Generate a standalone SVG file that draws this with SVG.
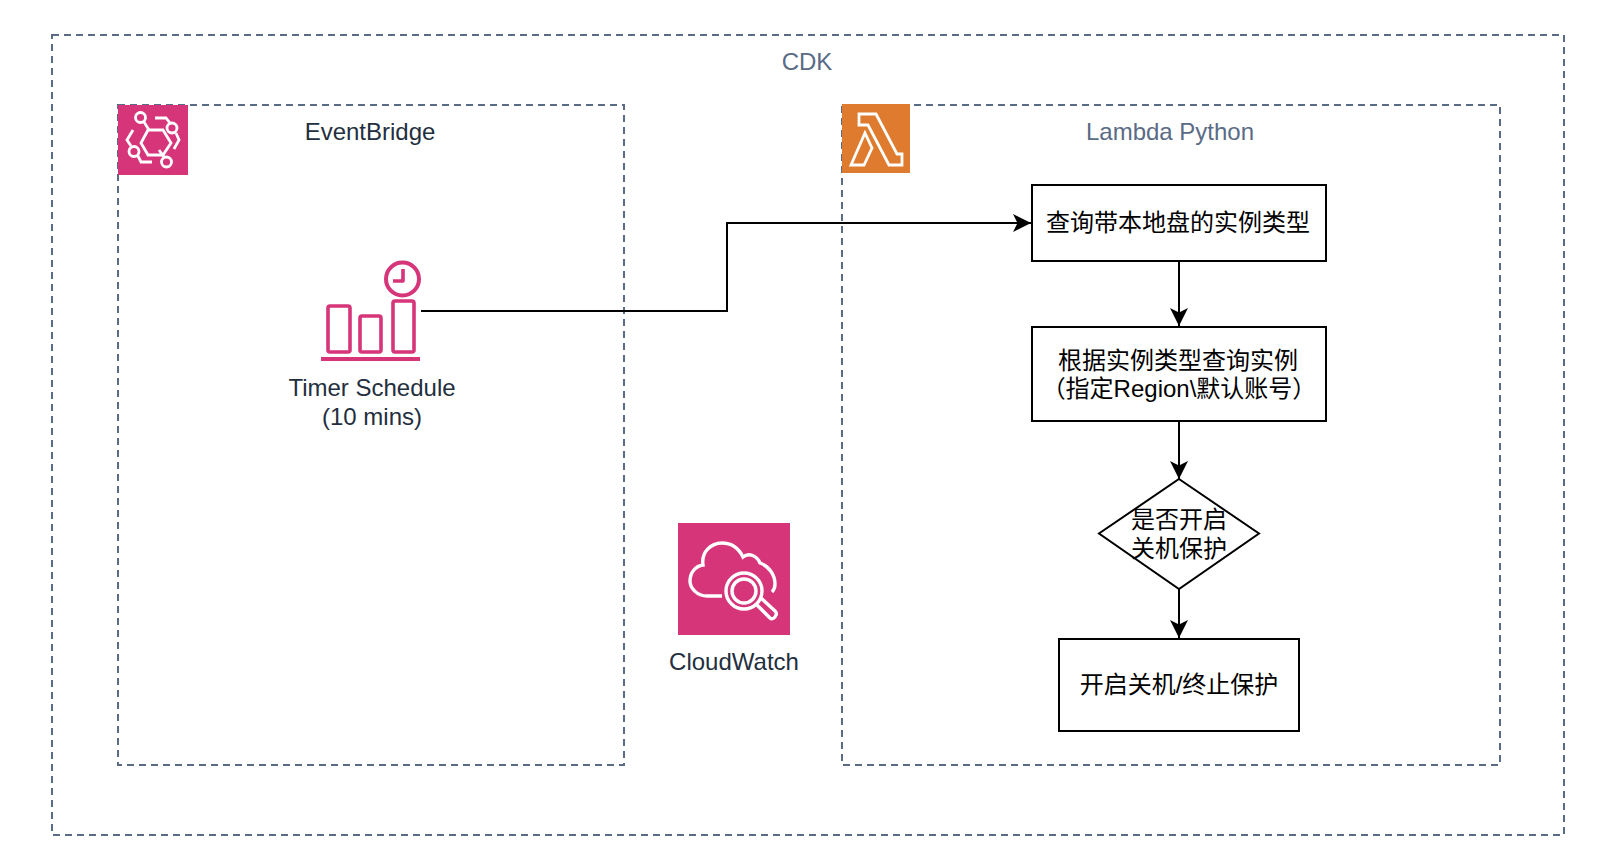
<svg xmlns="http://www.w3.org/2000/svg" width="1600" height="858" viewBox="0 0 1600 858">
<style>
text{font-family:"Liberation Sans","Noto Sans CJK SC",sans-serif;font-size:24px;text-anchor:middle}
.zone{fill:none;stroke:#5a6b86;stroke-width:2;stroke-dasharray:7 5}
.box{fill:#fff;stroke:#000;stroke-width:2}
.ic{fill:none;stroke:#fff;stroke-width:2.800}
.pk{fill:none;stroke:#d6357a;stroke-width:3.600;stroke-linejoin:round}
.cn{fill:none;stroke:#000;stroke-width:2}
.dk{fill:#232f3e}
.sl{fill:#5a6b86}
</style>
<defs><marker id="a" markerWidth="20" markerHeight="20" refX="18" refY="9" orient="auto" markerUnits="userSpaceOnUse"><path d="M0 0L18 9L0 18L4.500 9Z" fill="#000"/></marker></defs>
<rect x="0" y="0" width="1600" height="858" fill="#fff"/>
<g id="cdk"><rect class="zone" x="52" y="35" width="1512" height="800"/><text class="sl" x="807" y="70">CDK</text></g>
<g id="eventbridge"><rect class="zone" x="118" y="105" width="506" height="660"/>
<rect x="118" y="105" width="70" height="70" fill="#d6357a"/>
<g class="ic"><path d="M148 130H163L171 143L163 155H148L141 143Z"/><circle cx="140.500" cy="117.500" r="5"/><path d="M144 122L149 130"/><circle cx="172" cy="128" r="5"/><path d="M155 118H166L170 123M176 133L179 140L174 149"/><circle cx="134" cy="151.500" r="5"/><path d="M133 130L127 140L131 146M138 156L141 162H152"/><circle cx="166.500" cy="162" r="5"/><path d="M159 150L164 157"/></g>
<text class="dk" x="370" y="140">EventBridge</text></g>
<g id="timer"><rect class="pk" x="328" y="306" width="22" height="46" rx="2"/><rect class="pk" x="360" y="316" width="21" height="36" rx="2"/><rect class="pk" x="393" y="301" width="21" height="51" rx="2"/>
<path d="M321 359H420" stroke="#d6357a" stroke-width="4" fill="none"/><circle class="pk" cx="402.500" cy="279" r="16.500" style="stroke-width:4"/><path class="pk" d="M403 269V281H393"/>
<text class="dk" x="372" y="396">Timer Schedule</text><text class="dk" x="372" y="425">(10 mins)</text></g>
<g id="cloudwatch"><rect x="678" y="523" width="112" height="112" fill="#d6357a"/>
<g class="ic" style="stroke-width:3.400"><path d="M722 596H707C697 596 690 588 690 581C690 572 696 566 703 565C701 552 711 543 722 543C732 543 739 549 743 557C749 552 757 556 760 563C769 566 775 575 775 584C775 587 774 590 772 592"/><circle cx="744" cy="591" r="18"/><circle cx="744" cy="591" r="12"/><path d="M756 604L770 618C772 620 775 618 776 615C777 614 776 612 775 611L761 598"/></g>
<text class="dk" x="734" y="670">CloudWatch</text></g>
<g id="lambda"><rect class="zone" x="842" y="105" width="658" height="660"/>
<rect x="842" y="104" width="68" height="69" fill="#df7b2e"/>
<g class="ic"><path d="M859 114H876L897 154H902V165H889L868 125H859ZM865 133L872 148L864 165H851Z"/></g>
<text class="sl" x="1170" y="140">Lambda Python</text></g>
<g id="n1"><rect class="box" x="1032" y="185" width="294" height="76"/><text x="1178" y="231">查询带本地盘的实例类型</text></g>
<g id="n2"><rect class="box" x="1032" y="327" width="294" height="94"/><text x="1178" y="369">根据实例类型查询实例</text><text x="1179" y="397">（指定Region\默认账号）</text></g>
<g id="n3"><path class="box" d="M1179 479L1259 533.500L1179 589L1099 533.500Z"/><text x="1179" y="528">是否开启</text><text x="1179" y="557">关机保护</text></g>
<g id="n4"><rect class="box" x="1059" y="639" width="240" height="92"/><text x="1179" y="693">开启关机/终止保护</text></g>
<g id="connectors">
<path class="cn" d="M421 311H727V223H1031" marker-end="url(#a)"/>
<path class="cn" d="M1179 261V326" marker-end="url(#a)"/>
<path class="cn" d="M1179 421V479" marker-end="url(#a)"/>
<path class="cn" d="M1179 589V638" marker-end="url(#a)"/>
</g>
</svg>
